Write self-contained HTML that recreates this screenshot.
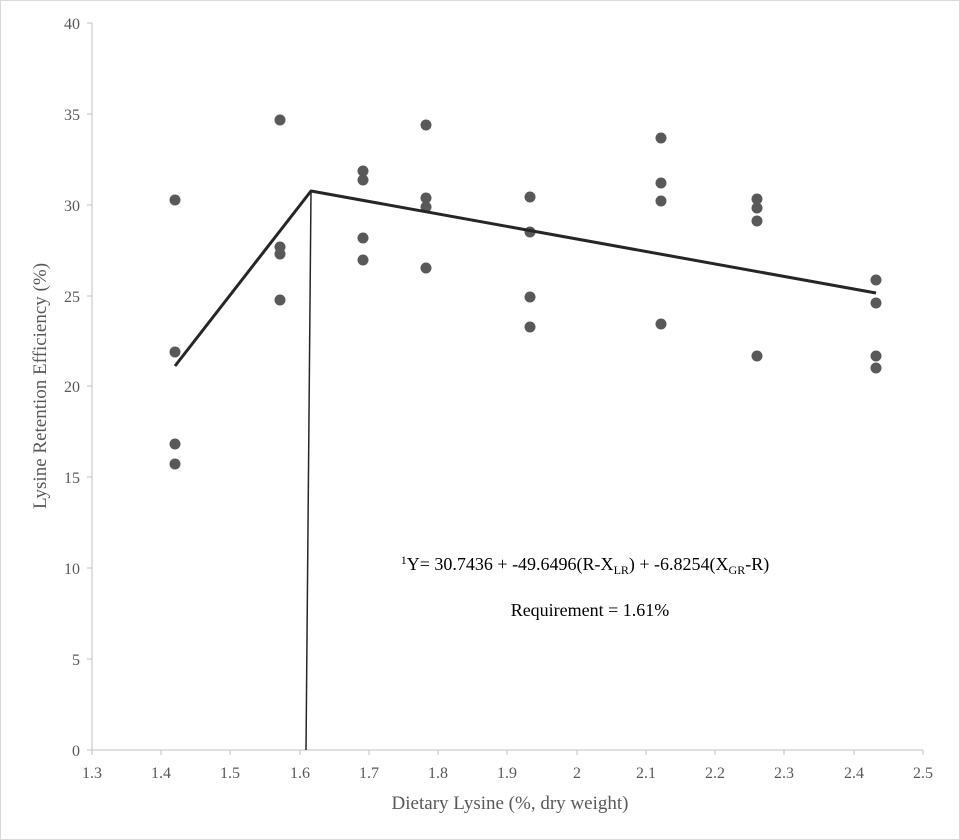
<!DOCTYPE html>
<html><head><style>
html,body{margin:0;padding:0;background:#fff;}
svg{display:block;font-family:"Liberation Serif",serif;}
</style></head><body>
<svg width="960" height="840" viewBox="0 0 960 840">
<rect x="0.5" y="0.5" width="959" height="839" fill="#fff" stroke="#d9d9d9"/>
<g stroke="#bfbfbf" stroke-width="1">
<line x1="92" y1="23" x2="92" y2="750"/>
<line x1="92" y1="750" x2="923" y2="750"/>
<line x1="87" y1="23" x2="92" y2="23"/><line x1="87" y1="114" x2="92" y2="114"/>
<line x1="87" y1="205" x2="92" y2="205"/><line x1="87" y1="296" x2="92" y2="296"/>
<line x1="87" y1="386" x2="92" y2="386"/><line x1="87" y1="477" x2="92" y2="477"/>
<line x1="87" y1="568" x2="92" y2="568"/><line x1="87" y1="659" x2="92" y2="659"/>
<line x1="87" y1="750" x2="92" y2="750"/>
<line x1="92" y1="750" x2="92" y2="755"/><line x1="161" y1="750" x2="161" y2="755"/>
<line x1="230" y1="750" x2="230" y2="755"/><line x1="300" y1="750" x2="300" y2="755"/>
<line x1="369" y1="750" x2="369" y2="755"/><line x1="438" y1="750" x2="438" y2="755"/>
<line x1="507" y1="750" x2="507" y2="755"/><line x1="577" y1="750" x2="577" y2="755"/>
<line x1="646" y1="750" x2="646" y2="755"/><line x1="715" y1="750" x2="715" y2="755"/>
<line x1="784" y1="750" x2="784" y2="755"/><line x1="854" y1="750" x2="854" y2="755"/>
<line x1="923" y1="750" x2="923" y2="755"/>
</g>
<g font-size="16" fill="#595959" text-anchor="end">
<text x="80" y="29">40</text><text x="80" y="120">35</text><text x="80" y="211">30</text>
<text x="80" y="302">25</text><text x="80" y="392">20</text><text x="80" y="483">15</text>
<text x="80" y="574">10</text><text x="80" y="665">5</text><text x="80" y="756">0</text>
</g>
<g font-size="16" fill="#595959" text-anchor="middle">
<text x="92" y="778">1.3</text><text x="161" y="778">1.4</text><text x="230" y="778">1.5</text>
<text x="300" y="778">1.6</text><text x="369" y="778">1.7</text><text x="438" y="778">1.8</text>
<text x="507" y="778">1.9</text><text x="577" y="778">2</text><text x="646" y="778">2.1</text>
<text x="715" y="778">2.2</text><text x="784" y="778">2.3</text><text x="854" y="778">2.4</text>
<text x="923" y="778">2.5</text>
</g>
<text x="510" y="809" font-size="19" fill="#595959" text-anchor="middle">Dietary Lysine (%, dry weight)</text>
<text transform="translate(46,386) rotate(-90)" font-size="19" fill="#595959" text-anchor="middle">Lysine Retention Efficiency (%)</text>
<g fill="#595959">
<circle cx="175" cy="200" r="5.5"/><circle cx="175" cy="352" r="5.5"/><circle cx="175" cy="444" r="5.5"/><circle cx="175" cy="464" r="5.5"/>
<circle cx="280" cy="120" r="5.5"/><circle cx="280" cy="247" r="5.5"/><circle cx="280" cy="254" r="5.5"/><circle cx="280" cy="300" r="5.5"/>
<circle cx="363" cy="171" r="5.5"/><circle cx="363" cy="180" r="5.5"/><circle cx="363" cy="238" r="5.5"/><circle cx="363" cy="260" r="5.5"/>
<circle cx="426" cy="125" r="5.5"/><circle cx="426" cy="198" r="5.5"/><circle cx="426" cy="207" r="5.5"/><circle cx="426" cy="268" r="5.5"/>
<circle cx="530" cy="197" r="5.5"/><circle cx="530" cy="232" r="5.5"/><circle cx="530" cy="297" r="5.5"/><circle cx="530" cy="327" r="5.5"/>
<circle cx="661" cy="138" r="5.5"/><circle cx="661" cy="183" r="5.5"/><circle cx="661" cy="201" r="5.5"/><circle cx="661" cy="324" r="5.5"/>
<circle cx="757" cy="199" r="5.5"/><circle cx="757" cy="208" r="5.5"/><circle cx="757" cy="221" r="5.5"/><circle cx="757" cy="356" r="5.5"/>
<circle cx="876" cy="280" r="5.5"/><circle cx="876" cy="303" r="5.5"/><circle cx="876" cy="356" r="5.5"/><circle cx="876" cy="368" r="5.5"/>
</g>
<polyline points="175,366 311,191 876,293" fill="none" stroke="#262626" stroke-width="3" stroke-linejoin="round"/>
<line x1="311" y1="192" x2="306" y2="750" stroke="#262626" stroke-width="1.5"/>
<text x="585" y="570" font-size="18" fill="#000" text-anchor="middle"><tspan font-size="12" dy="-6">1</tspan><tspan dy="6">Y= 30.7436 + -49.6496(R-X</tspan><tspan font-size="12" dy="4">LR</tspan><tspan dy="-4">) + -6.8254(X</tspan><tspan font-size="12" dy="4">GR</tspan><tspan dy="-4">-R)</tspan></text>
<text x="590" y="616" font-size="18" fill="#000" text-anchor="middle">Requirement = 1.61%</text>
</svg>
</body></html>
